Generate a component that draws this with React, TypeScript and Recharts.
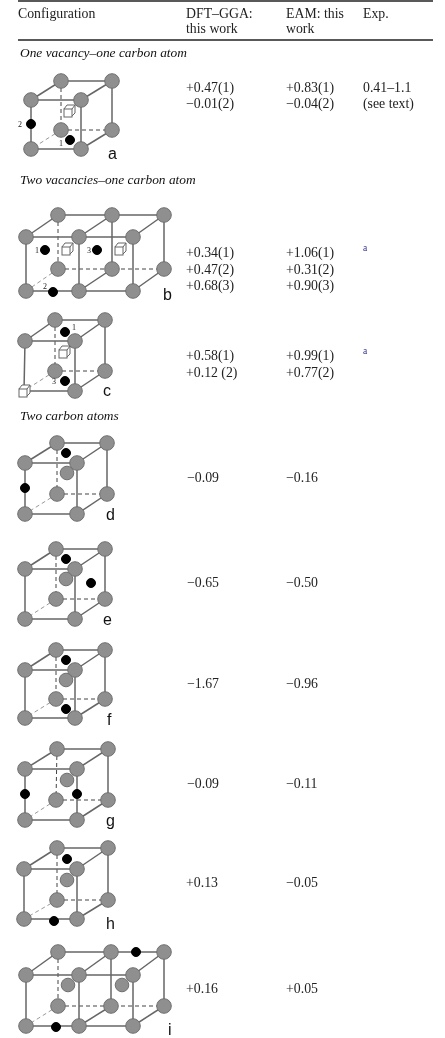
import { ScatterChart, Scatter, XAxis, YAxis } from 'recharts';

type Pt = [number, number];
type Note = [number, number, string];

// each cube: columns of corners, rows = back top, front top, back bottom, front bottom
const cubeA: Pt[][] = [[[61, 81], [112, 81]], [[31, 100], [81, 100]], [[61, 130], [112, 130]], [[31, 149], [81, 149]]];
const cubeB: Pt[][] = [[[58, 215], [112, 215], [164, 215]], [[26, 237], [79, 237], [133, 237]], [[58, 269], [112, 269], [164, 269]], [[26, 291], [79, 291], [133, 291]]];
const cubeC: Pt[][] = [[[55, 320], [105, 320]], [[25, 341], [75, 341]], [[55, 371], [105, 371]], [[24, 391], [75, 391]]];
const cubeD: Pt[][] = [[[57, 443], [107, 443]], [[25, 463], [77, 463]], [[57, 494], [107, 494]], [[25, 514], [77, 514]]];
const cubeE: Pt[][] = [[[56, 549], [105, 549]], [[25, 569], [75, 569]], [[56, 599], [105, 599]], [[25, 619], [75, 619]]];
const cubeF: Pt[][] = [[[56, 650], [105, 650]], [[25, 670], [75, 670]], [[56, 699], [105, 699]], [[25, 718], [75, 718]]];
const cubeG: Pt[][] = [[[57, 749], [108, 749]], [[25, 769], [77, 769]], [[56, 800], [108, 800]], [[25, 820], [77, 820]]];
const cubeH: Pt[][] = [[[57, 848], [108, 848]], [[24, 869], [77, 869]], [[57, 900], [108, 900]], [[24, 919], [77, 919]]];
const cubeI: Pt[][] = [[[58, 952], [111, 952], [164, 952]], [[26, 975], [79, 975], [133, 975]], [[58, 1006], [111, 1006], [164, 1006]], [[26, 1026], [79, 1026], [133, 1026]]];
const cubes = [cubeA, cubeB, cubeC, cubeD, cubeE, cubeF, cubeG, cubeH, cubeI];

const innerAtoms: Pt[] = [[67, 473], [66, 579], [66, 680], [67, 780], [67, 880], [68, 985], [122, 985]];
const carbonAtoms: Pt[] = [
  [31, 124], [70, 140], [45, 250], [97, 250], [53, 292], [65, 332], [65, 381], [66, 453], [25, 488],
  [66, 559], [91, 583], [66, 660], [66, 709], [25, 794], [77, 794], [67, 859], [54, 921], [136, 952], [56, 1027],
];
const vacancies: Pt[] = [[69, 111], [67, 249], [120, 249], [64, 352], [24, 391]];

const headerRules: Pt[][] = [[[18, 1], [433, 1]], [[18, 40], [433, 40]]];

const headerNotes: Note[] = [
  [18, 17.5, 'Configuration'], [186, 17.5, 'DFT–GGA:'], [186, 33, 'this work'],
  [286, 17.5, 'EAM: this'], [286, 33, 'work'], [363, 17.5, 'Exp.'],
];
const sectionNotes: Note[] = [
  [20, 57, 'One vacancy–one carbon atom'], [20, 184, 'Two vacancies–one carbon atom'], [20, 420, 'Two carbon atoms'],
];
const dftValues: Note[] = [
  [186, 92, '+0.47(1)'], [186, 108, '−0.01(2)'], [186, 257, '+0.34(1)'], [186, 274, '+0.47(2)'], [186, 290, '+0.68(3)'],
  [186, 360, '+0.58(1)'], [186, 377, '+0.12 (2)'], [187, 482, '−0.09'], [187, 587, '−0.65'], [187, 688, '−1.67'],
  [187, 788, '−0.09'], [186, 887, '+0.13'], [186, 993, '+0.16'],
];
const eamValues: Note[] = [
  [286, 92, '+0.83(1)'], [286, 108, '−0.04(2)'], [286, 257, '+1.06(1)'], [286, 274, '+0.31(2)'], [286, 290, '+0.90(3)'],
  [286, 360, '+0.99(1)'], [286, 377, '+0.77(2)'], [286, 482, '−0.16'], [286, 587, '−0.50'], [286, 688, '−0.96'],
  [286, 788, '−0.11'], [286, 887, '−0.05'], [286, 993, '+0.05'],
];
const expValues: Note[] = [[363, 92, '0.41–1.1'], [363, 108, '(see text)']];
const expFootnotes: Note[] = [[363, 251, 'a'], [363, 354, 'a']];
const siteLabels: Note[] = [
  [18, 127, '2'], [59, 146, '1'], [35, 253, '1'], [87, 253, '3'], [43, 289, '2'], [72, 330, '1'], [52, 384, '3'],
];
const panelLetters: Note[] = [
  [108, 159, 'a'], [163, 300, 'b'], [103, 396, 'c'], [106, 520, 'd'], [103, 625, 'e'], [107, 725, 'f'],
  [106, 826, 'g'], [106, 929, 'h'], [168, 1035, 'i'],
];

const toPoints = (pts: Pt[]) => pts.map(([x, y]) => ({ x, y }));
const toNotes = (notes: Note[]) => notes.map(([x, y, label]) => ({ x, y, label }));

const solidEdges: Pt[][] = [];
const dashedEdges: Pt[][] = [];
const paleEdges: Pt[][] = [];
cubes.forEach(([backTop, frontTop, backBottom, frontBottom]) => {
  const last = backTop.length - 1;
  solidEdges.push([backTop[0], backTop[last]], [frontTop[0], frontTop[last]], [frontBottom[0], frontBottom[last]]);
  dashedEdges.push([backBottom[0], backBottom[last]], [backTop[0], backBottom[0]]);
  paleEdges.push([backBottom[0], frontBottom[0]]);
  backTop.forEach((p, i) => {
    solidEdges.push([p, frontTop[i]], [frontTop[i], frontBottom[i]]);
    if (i > 0) solidEdges.push([p, backBottom[i]], [backBottom[i], frontBottom[i]]);
  });
});

const cornerAtoms = cubes
  .flat(2)
  .filter(([x, y]) => !vacancies.some(([vx, vy]) => vx === x && vy === y));

const Atom = ({ cx, cy, r, fill, stroke }: any) => (
  <circle cx={cx} cy={cy} r={r} fill={fill} stroke={stroke} strokeWidth={1} />
);

const VacancyBox = ({ cx, cy }: any) => (
  <g transform={`translate(${cx},${cy})`} fill="#fff" stroke="#666" strokeWidth={1}>
    <path d="M-5 -2 L-2 -6 L6 -6 L6 2 L3 5 Z" />
    <rect x={-5} y={-2} width={8} height={8} />
    <path d="M3 -2 L6 -6" fill="none" />
  </g>
);

const Label = ({ cx, cy, payload, font, size, color, italic }: any) => (
  <text x={cx} y={cy} fontFamily={font} fontSize={size} fill={color} fontStyle={italic ? 'italic' : 'normal'}>
    {payload.label}
  </text>
);

const noMark = () => <g />;
const serif = '"Liberation Serif", serif';
const sans = '"Liberation Sans", sans-serif';

const noteSeries = (name: string, notes: Note[], font: string, size: number, color: string, italic = false) => (
  <Scatter
    key={name}
    data={toNotes(notes)}
    isAnimationActive={false}
    shape={(props: any) => <Label {...props} font={font} size={size} color={color} italic={italic} />}
  />
);

export default function App() {
  return (
    <div style={{ position: 'absolute', left: 0, top: 0, width: 445, height: 1038, background: '#fff', filter: 'blur(0.5px)' }}>
      <ScatterChart width={445} height={1038} margin={{ top: 0, right: 0, bottom: 0, left: 0 }}>
        <XAxis type="number" dataKey="x" domain={[0, 445]} hide />
        <YAxis type="number" dataKey="y" domain={[0, 1038]} reversed hide />
        {headerRules.map((e, i) => (
          <Scatter key={`rule${i}`} data={toPoints(e)} isAnimationActive={false} shape={noMark} line={{ stroke: '#222', strokeWidth: 1.4 }} />
        ))}
        {paleEdges.map((e, i) => (
          <Scatter key={`pale${i}`} data={toPoints(e)} isAnimationActive={false} shape={noMark} line={{ stroke: '#999', strokeWidth: 1, strokeDasharray: '4 3' }} />
        ))}
        {dashedEdges.map((e, i) => (
          <Scatter key={`dash${i}`} data={toPoints(e)} isAnimationActive={false} shape={noMark} line={{ stroke: '#444', strokeWidth: 1, strokeDasharray: '4 3' }} />
        ))}
        {solidEdges.map((e, i) => (
          <Scatter key={`edge${i}`} data={toPoints(e)} isAnimationActive={false} shape={noMark} line={{ stroke: '#666', strokeWidth: 1.5 }} />
        ))}
        <Scatter data={toPoints(cornerAtoms)} isAnimationActive={false} shape={(p: any) => <Atom {...p} r={7.3} fill="#8f8f8f" stroke="#707070" />} />
        <Scatter data={toPoints(innerAtoms)} isAnimationActive={false} shape={(p: any) => <Atom {...p} r={6.8} fill="#8f8f8f" stroke="#707070" />} />
        <Scatter data={toPoints(carbonAtoms)} isAnimationActive={false} shape={(p: any) => <Atom {...p} r={4.5} fill="#000" stroke="#000" />} />
        <Scatter data={toPoints(vacancies)} isAnimationActive={false} shape={VacancyBox} />
        {noteSeries('header', headerNotes, serif, 13.8, '#222')}
        {noteSeries('section', sectionNotes, serif, 13.4, '#111', true)}
        {noteSeries('dft', dftValues, serif, 13.8, '#222')}
        {noteSeries('eam', eamValues, serif, 13.8, '#222')}
        {noteSeries('exp', expValues, serif, 13.8, '#222')}
        {noteSeries('foot', expFootnotes, serif, 9.5, '#2c2c8c')}
        {noteSeries('site', siteLabels, serif, 8, '#222')}
        {noteSeries('panel', panelLetters, sans, 16, '#111')}
      </ScatterChart>
    </div>
  );
}
